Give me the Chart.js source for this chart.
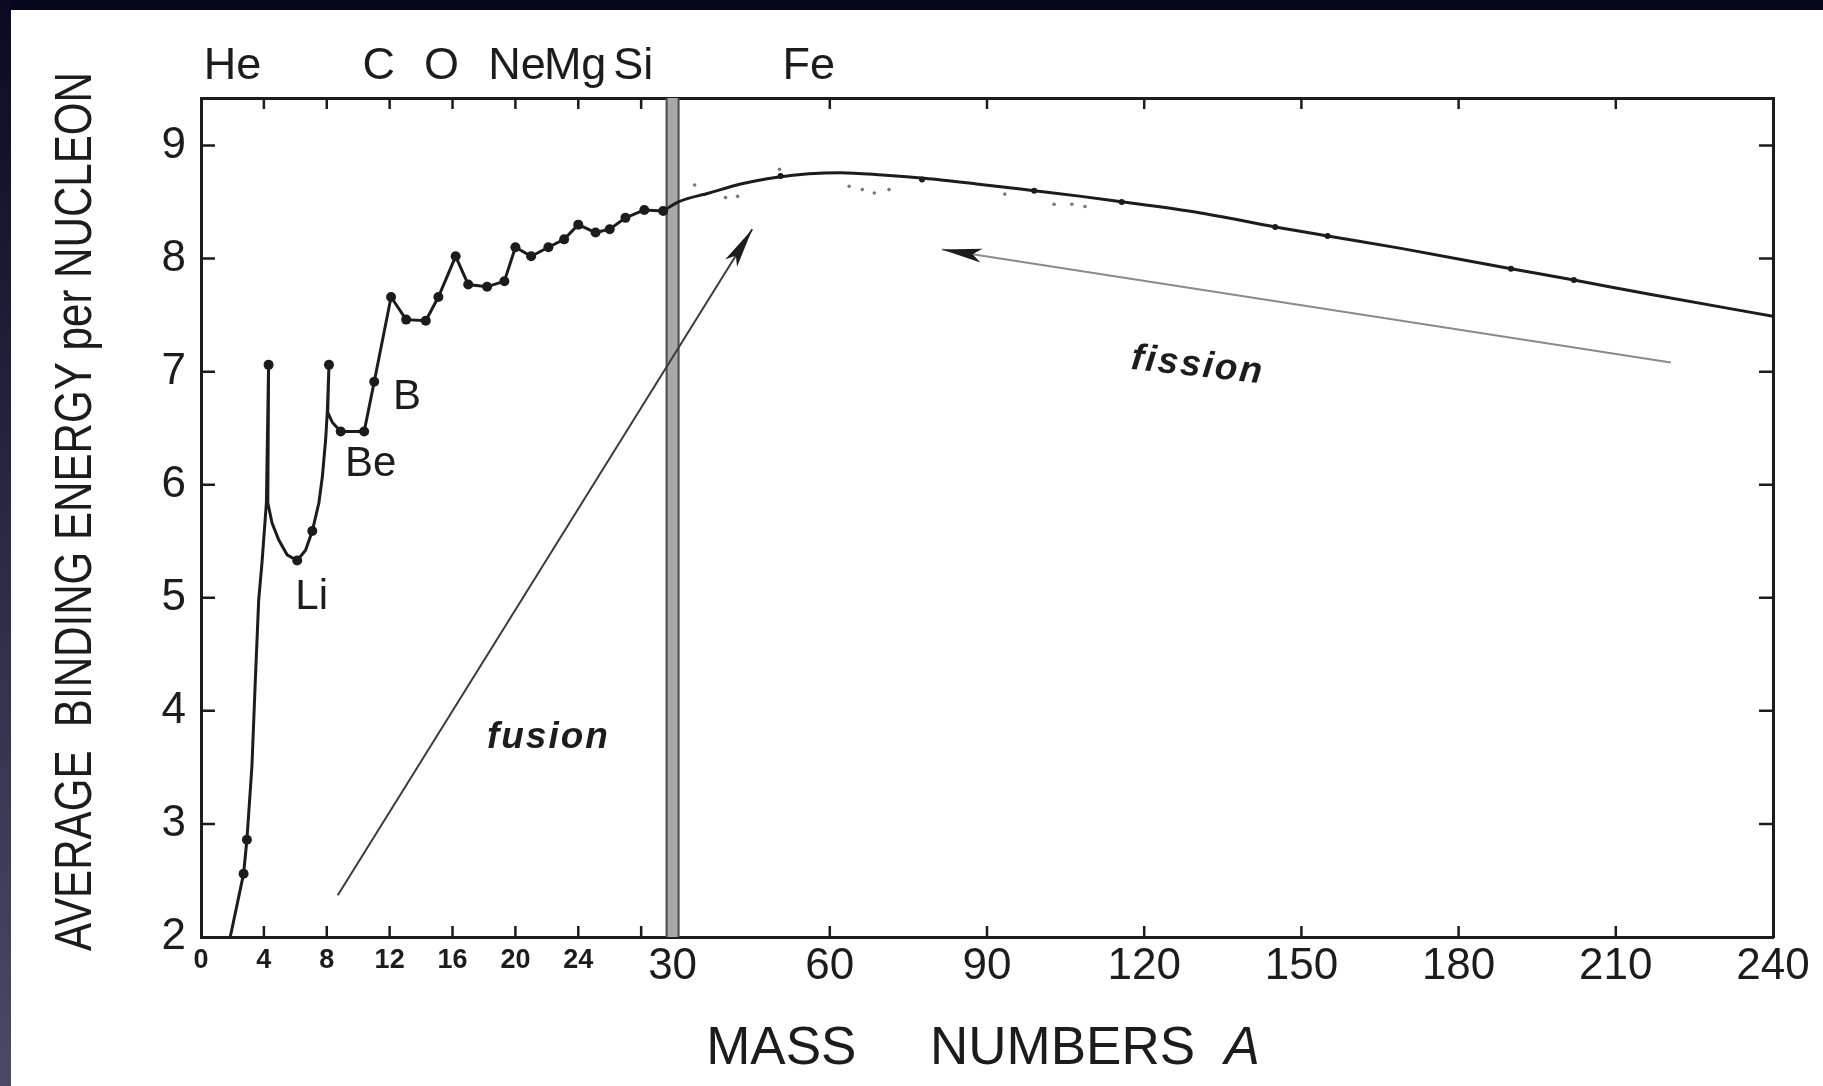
<!DOCTYPE html>
<html>
<head>
<meta charset="utf-8">
<title>Average binding energy per nucleon</title>
<script src="https://cdn.jsdelivr.net/npm/chart.js@4.4.1/dist/chart.umd.min.js"></script>
<style>
	html, body { margin: 0; padding: 0; overflow: hidden; background: #06061c; }
	#edge { position: absolute; left: 0; top: 0; width: 11px; height: 1086px; background: linear-gradient(#0a0a24, #4a4a66); }
	#paper { position: absolute; left: 11px; top: 10px; right: 0; bottom: 0; background: #fff; }
	#chart-wrap { position: absolute; left: 0; top: 0; width: 1823px; height: 1086px; }
</style>
</head>
<body>
<div id="edge"></div>
<div id="paper"></div>
<div id="chart-wrap"><canvas id="chart-binding" width="1823" height="1086"></canvas></div>
<script>
// light nuclei, line path (A, MeV)
const lightA = [1.86, 2.71, 2.92, 3.24, 3.45, 3.67, 3.88, 4.16, 4.30, 4.25, 4.52, 4.95, 5.48, 6.12, 6.65, 7.08, 7.50, 7.72, 7.93, 8.04, 8.14, 8.06, 8.36, 8.89, 10.38, 11.02, 12.09, 13.05, 14.3, 15.1, 16.2, 17.0, 18.2, 19.3, 20.0, 21.0, 22.1, 23.1, 24.0, 25.1, 26.0, 27.0, 28.2, 29.4];
const lightE = [2.00, 2.56, 2.86, 3.51, 4.25, 4.98, 5.31, 5.84, 7.06, 5.84, 5.66, 5.51, 5.38, 5.33, 5.42, 5.59, 5.84, 6.07, 6.40, 6.66, 7.06, 6.64, 6.55, 6.47, 6.47, 6.91, 7.66, 7.46, 7.45, 7.66, 8.02, 7.77, 7.75, 7.80, 8.10, 8.02, 8.10, 8.17, 8.30, 8.23, 8.26, 8.36, 8.43, 8.42];

// heavier nuclei, smooth curve
const heavyA = [29.4, 31, 37, 43, 50, 56, 62, 70, 78, 88, 99, 108, 116, 130, 145, 155, 169, 190, 202, 217, 240];
const heavyE = [8.42, 8.50, 8.58, 8.66, 8.72, 8.75, 8.76, 8.74, 8.71, 8.66, 8.60, 8.55, 8.50, 8.41, 8.28, 8.20, 8.09, 7.91, 7.81, 7.68, 7.49];

// marked nuclides
const dotA = [2.71, 2.92, 4.30, 6.12, 7.08, 8.14, 8.89, 10.38, 11.02, 12.09, 13.05, 14.3, 15.1, 16.2, 17.0, 18.2, 19.3, 20.0, 21.0, 22.1, 23.1, 24.0, 25.1, 26.0, 27.0, 28.2, 29.4];
const dotE = [2.56, 2.86, 7.06, 5.33, 5.59, 7.06, 6.47, 6.47, 6.91, 7.66, 7.46, 7.45, 7.66, 8.02, 7.77, 7.75, 7.80, 8.10, 8.02, 8.10, 8.17, 8.30, 8.23, 8.26, 8.36, 8.43, 8.42];
const heavyDotA = [50.6, 77.6, 99, 115.7, 145, 155, 190, 202];
const heavyDotE = [8.73, 8.70, 8.60, 8.50, 8.28, 8.20, 7.91, 7.81];

// faint scattered points near the maximum
const speckA = [34.2, 40.1, 42.4, 50.4, 63.7, 66.2, 68.5, 71.3, 93.4, 102.8, 106.2, 108.7];
const speckE = [8.65, 8.54, 8.55, 8.79, 8.64, 8.61, 8.58, 8.61, 8.57, 8.48, 8.48, 8.46];

const massTicks = [0, 4, 8, 12, 16, 20, 24, 28, 30, 60, 90, 120, 150, 180, 210, 240];
const energyTicks = [2, 3, 4, 5, 6, 7, 8, 9];

const elementNames = ['He', 'C', 'O', 'Ne', 'Mg', 'Si', 'Fe'];
const elementA = [2.0, 11.3, 15.3, 20.1, 23.8, 27.5, 56];

const noteText = ['Li', 'Be', 'B'];
const noteA = [7.04, 10.8, 13.1];
const noteE = [5.0, 6.18, 6.77];

const fusionFrom = [8.7, 2.37], fusionTo = [45.2, 8.26], fusionLabel = [22.1, 3.76];
const fissionFrom = [220.5, 7.08], fissionTo = [81.4, 8.08], fissionLabel = [130.2, 7.05];

const yTitle = 'AVERAGE  BINDING ENERGY per NUCLEON';

const BREAK_A = 30;
const STRETCH = 3;

const INK = '#1c1c1c';
const SANS = '"Liberation Sans", Arial, sans-serif';

// 0-30 is drawn three times wider than 30-240
function toAxis(a) {
	return a <= BREAK_A ? a * STRETCH : BREAK_A * STRETCH + (a - BREAK_A);
}
function fromAxis(u) {
	return u <= BREAK_A * STRETCH ? u / STRETCH : BREAK_A + (u - BREAK_A * STRETCH);
}

class BrokenScale extends Chart.LinearScale {
	getPixelForValue(value) {
		const lo = toAxis(this.min), hi = toAxis(this.max);
		return this.getPixelForDecimal((toAxis(value) - lo) / (hi - lo));
	}
	getValueForPixel(pixel) {
		const lo = toAxis(this.min), hi = toAxis(this.max);
		return fromAxis(lo + this.getDecimalForPixel(pixel) * (hi - lo));
	}
}
BrokenScale.id = 'broken';
BrokenScale.defaults = Chart.LinearScale.defaults;
Chart.register(BrokenScale);

const pts = (xs, ys) => xs.map((a, i) => ({ x: a, y: ys[i] }));

function drawArrow(ctx, x1, y1, x2, y2, lineColor) {
	ctx.save();
	ctx.strokeStyle = lineColor;
	ctx.lineWidth = 2;
	ctx.beginPath();
	ctx.moveTo(x1, y1);
	ctx.lineTo(x2, y2);
	ctx.stroke();
	ctx.translate(x2, y2);
	ctx.rotate(Math.atan2(y2 - y1, x2 - x1));
	ctx.fillStyle = INK;
	ctx.beginPath();
	ctx.moveTo(0, 0);
	ctx.lineTo(-40, -7);
	ctx.lineTo(-31, 0);
	ctx.lineTo(-40, 7);
	ctx.closePath();
	ctx.fill();
	ctx.restore();
}

const paperMarks = {
	id: 'paperMarks',
	beforeDatasetsDraw(chart) {
		// the grey bar where the mass scale changes
		const { ctx, chartArea: a, scales: { x } } = chart;
		const bx = x.getPixelForValue(BREAK_A);
		ctx.save();
		ctx.fillStyle = '#a8a8a8';
		ctx.fillRect(bx - 6, a.top, 12, a.bottom - a.top);
		ctx.strokeStyle = '#4a4a4a';
		ctx.lineWidth = 2;
		ctx.beginPath();
		ctx.moveTo(bx - 6, a.top); ctx.lineTo(bx - 6, a.bottom);
		ctx.moveTo(bx + 6, a.top); ctx.lineTo(bx + 6, a.bottom);
		ctx.stroke();
		ctx.restore();
	},
	afterDatasetsDraw(chart) {
		const { ctx, chartArea: a, scales: { x, y } } = chart;
		ctx.save();
		// inward tick marks on all four sides
		ctx.strokeStyle = INK;
		ctx.lineWidth = 2.5;
		ctx.beginPath();
		x.ticks.forEach(t => {
			if (t.value === 0 || t.value === BREAK_A || t.value === 240) return;
			const px = x.getPixelForValue(t.value);
			ctx.moveTo(px, a.bottom); ctx.lineTo(px, a.bottom - 11);
			ctx.moveTo(px, a.top); ctx.lineTo(px, a.top + 11);
		});
		y.ticks.forEach(t => {
			if (t.value === 2) return;
			const py = y.getPixelForValue(t.value);
			ctx.moveTo(a.left, py); ctx.lineTo(a.left + 14, py);
			ctx.moveTo(a.right, py); ctx.lineTo(a.right - 14, py);
		});
		ctx.stroke();

		drawArrow(ctx, x.getPixelForValue(fusionFrom[0]), y.getPixelForValue(fusionFrom[1]),
			x.getPixelForValue(fusionTo[0]), y.getPixelForValue(fusionTo[1]), '#3a3a3a');
		drawArrow(ctx, x.getPixelForValue(fissionFrom[0]), y.getPixelForValue(fissionFrom[1]),
			x.getPixelForValue(fissionTo[0]), y.getPixelForValue(fissionTo[1]), '#8a8a8a');

		ctx.fillStyle = INK;
		ctx.textAlign = 'center';
		ctx.textBaseline = 'middle';
		ctx.font = '42px ' + SANS;
		noteText.forEach((txt, i) => {
			ctx.fillText(txt, x.getPixelForValue(noteA[i]), y.getPixelForValue(noteE[i]));
		});

		ctx.font = 'italic bold 37px ' + SANS;
		ctx.letterSpacing = '2px';
		ctx.fillText('fusion', x.getPixelForValue(fusionLabel[0]), y.getPixelForValue(fusionLabel[1]));
		ctx.save();
		ctx.translate(x.getPixelForValue(fissionLabel[0]), y.getPixelForValue(fissionLabel[1]));
		ctx.rotate(0.11);
		ctx.fillText('fission', 0, 0);
		ctx.restore();
		ctx.letterSpacing = '0px';

		// y axis title, condensed like the original lettering
		ctx.save();
		ctx.translate(y.left + 77, (a.top + a.bottom) / 2 - 6);
		ctx.rotate(-Math.PI / 2);
		ctx.font = '52px ' + SANS;
		ctx.fillText(yTitle, 0, 0, 879);
		ctx.restore();

		// x axis title with italic A
		const head = 'MASS     NUMBERS  ';
		ctx.font = '53px ' + SANS;
		const wHead = ctx.measureText(head).width;
		ctx.font = 'italic 53px ' + SANS;
		const wA = ctx.measureText('A').width;
		const cx = (x.left + x.right) / 2 - 4;
		const ty = x.bottom - 37;
		const start = cx - (wHead + wA) / 2;
		ctx.textAlign = 'left';
		ctx.font = '53px ' + SANS;
		ctx.fillText(head, start, ty);
		ctx.font = 'italic 53px ' + SANS;
		ctx.fillText('A', start + wHead, ty);
		ctx.restore();
	}
};

const ctx = document.getElementById('chart-binding');
const bindingChart = new Chart(ctx, {
	type: 'line',
	data: {
		datasets: [
			{
				label: 'light nuclei',
				data: pts(lightA, lightE),
				borderColor: INK,
				borderWidth: 3,
				pointRadius: 0,
				tension: 0
			},
			{
				label: 'heavy nuclei',
				data: pts(heavyA, heavyE),
				borderColor: INK,
				borderWidth: 3,
				pointRadius: 0,
				cubicInterpolationMode: 'monotone'
			},
			{
				type: 'scatter',
				label: 'nuclides',
				data: pts(dotA, dotE),
				pointRadius: 5,
				backgroundColor: INK,
				borderWidth: 0
			},
			{
				type: 'scatter',
				label: 'heavy nuclides',
				data: pts(heavyDotA, heavyDotE),
				pointRadius: 3,
				backgroundColor: INK,
				borderWidth: 0
			},
			{
				type: 'scatter',
				label: 'scatter',
				data: pts(speckA, speckE),
				pointRadius: 1.8,
				backgroundColor: '#777',
				borderWidth: 0
			}
		]
	},
	options: {
		responsive: false,
		animation: false,
		layout: { padding: 0 },
		plugins: {
			legend: { display: false },
			tooltip: { enabled: false }
		},
		scales: {
			x: {
				type: 'broken',
				position: 'bottom',
				min: 0,
				max: 240,
				afterBuildTicks: s => { s.ticks = massTicks.map(v => ({ value: v })); },
				afterFit: s => { s.height = 149; },
				grid: { display: false, drawTicks: false },
				border: { display: true, color: INK, width: 3 },
				ticks: {
					autoSkip: false,
					maxRotation: 0,
					minRotation: 0,
					padding: 3,
					color: INK,
					font: c => (c.tick && c.tick.value < BREAK_A)
						? { family: SANS, size: 27, weight: 'bold', lineHeight: 1.55 }
						: { family: SANS, size: 44 },
					callback: v => (v === 28 ? '' : String(v))
				}
			},
			xTop: {
				type: 'broken',
				position: 'top',
				min: 0,
				max: 240,
				afterBuildTicks: s => { s.ticks = elementA.map(v => ({ value: v })); },
				afterFit: s => { s.height = 98; },
				grid: { display: false, drawTicks: false },
				border: { display: true, color: INK, width: 3 },
				ticks: {
					autoSkip: false,
					maxRotation: 0,
					minRotation: 0,
					padding: 4,
					color: INK,
					font: { family: SANS, size: 45 },
					callback: (v, i) => elementNames[i]
				}
			},
			y: {
				type: 'linear',
				position: 'left',
				min: 2,
				max: 9.42,
				afterBuildTicks: s => { s.ticks = energyTicks.map(v => ({ value: v })); },
				afterFit: s => { s.width = 201; },
				grid: { display: false, drawTicks: false },
				border: { display: true, color: INK, width: 3 },
				ticks: {
					padding: 15,
					color: INK,
					font: { family: SANS, size: 44 }
				}
			},
			yRight: {
				type: 'linear',
				position: 'right',
				min: 2,
				max: 9.42,
				afterFit: s => { s.width = 50; },
				grid: { display: false, drawTicks: false },
				border: { display: true, color: INK, width: 3 },
				ticks: { display: false }
			}
		}
	},
	plugins: [paperMarks]
});
</script>
</body>
</html>
